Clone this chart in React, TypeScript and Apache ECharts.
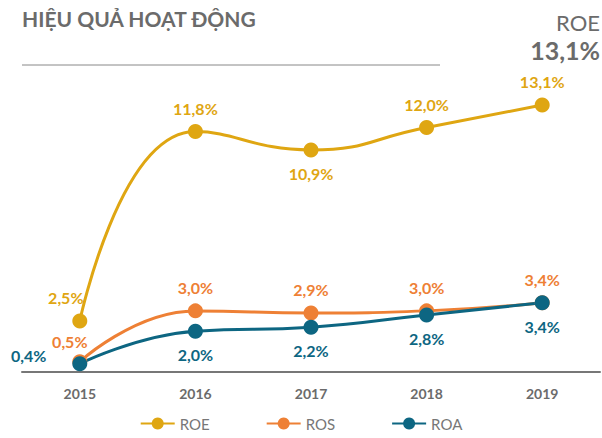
import React, { useEffect, useRef } from "react";
import * as echarts from "echarts";

const years = ["2015", "2016", "2017", "2018", "2019"];
const roe = [2.5, 11.8, 10.9, 12.0, 13.1];
const ros = [0.5, 3.0, 2.9, 3.0, 3.4];
const roa = [0.4, 2.0, 2.2, 2.8, 3.4];

const C_ROE = "#DFA612";
const C_ROS = "#EE8035";
const C_ROA = "#0D6682";
const GRAY = "#6B6B6B";
const FONT = "Lato";

const fmt = (v: number) => v.toFixed(1).replace(".", ",") + "%";

export default function App() {
  const ref = useRef<HTMLDivElement>(null);
  useEffect(() => {
    const chart = echarts.init(ref.current!, null, { renderer: "svg" });
    const lbl = (color: string) => ({
      show: true,
      color,
      fontFamily: FONT,
      fontWeight: "bold" as const,
      fontSize: 16,
      formatter: (p: any) => fmt(p.value),
    });
    chart.setOption({
      animation: false,
      textStyle: { fontFamily: FONT },
      grid: { left: 22, right: 2, top: 46, bottom: 66 },
      xAxis: {
        type: "category",
        data: years,
        boundaryGap: true,
        axisLine: { lineStyle: { color: "#777", width: 2 } },
        axisTick: { show: false },
        axisLabel: { color: GRAY, fontWeight: "bold", fontSize: 14, fontFamily: FONT, margin: 14 },
      },
      yAxis: { type: "value", min: 0, max: 16, show: false, splitLine: { show: false } },
      legend: {
        bottom: 2,
        left: "center",
        itemWidth: 34,
        itemHeight: 15,
        itemGap: 56,
        textStyle: { color: "#777", fontSize: 15, fontFamily: FONT },
        data: ["ROE", "ROS", "ROA"],
      },
      series: [
        {
          name: "ROE",
          type: "line",
          data: roe.map((v, i) =>
            i === 2 ? { value: v, label: { position: "bottom" } } : { value: v }
          ),
          smooth: 0.5,
          symbol: "circle",
          symbolSize: 15,
          itemStyle: { color: C_ROE },
          lineStyle: { color: C_ROE, width: 3 },
          label: { ...lbl(C_ROE), position: "top", distance: 8 },
          labelLayout: (p: any) => (p.dataIndex === 0 ? { dx: -14 } : {}),
        },
        {
          name: "ROS",
          type: "line",
          data: ros,
          smooth: 0.5,
          symbol: "circle",
          symbolSize: 15,
          itemStyle: { color: C_ROS },
          lineStyle: { color: C_ROS, width: 3 },
          label: { ...lbl(C_ROS), position: "top", distance: 8 },
          labelLayout: (p: any) => (p.dataIndex === 0 ? { dx: -10, dy: 3 } : {}),
        },
        {
          name: "ROA",
          type: "line",
          data: roa.map((v, i) =>
            i === 0
              ? { value: v, label: { position: "left", distance: 26, offset: [0, -8] } }
              : { value: v }
          ),
          smooth: 0.5,
          symbol: "circle",
          symbolSize: 15,
          itemStyle: { color: C_ROA },
          lineStyle: { color: C_ROA, width: 3 },
          label: { ...lbl(C_ROA), position: "bottom", distance: 8 },
        },
      ],
      graphic: [
        {
          type: "text",
          left: 22,
          top: 8,
          style: { text: "HIỆU QUẢ HOẠT ĐỘNG", fill: GRAY, fontSize: 21, fontWeight: "bold", fontFamily: FONT },
        },
        {
          type: "line",
          shape: { x1: 22, y1: 65, x2: 440, y2: 65 },
          style: { stroke: "#888", lineWidth: 1 },
        },
        {
          type: "text",
          right: 2,
          top: 11,
          style: { text: "ROE", fill: GRAY, fontSize: 22, fontFamily: FONT },
        },
        {
          type: "text",
          right: 2,
          top: 37,
          style: { text: "13,1%", fill: GRAY, fontSize: 25, fontWeight: "bold", fontFamily: FONT },
        },
      ],
    });
    return () => chart.dispose();
  }, []);
  return <div ref={ref} style={{ width: 602, height: 438, position: "absolute", left: 0, top: 0 }} />;
}
